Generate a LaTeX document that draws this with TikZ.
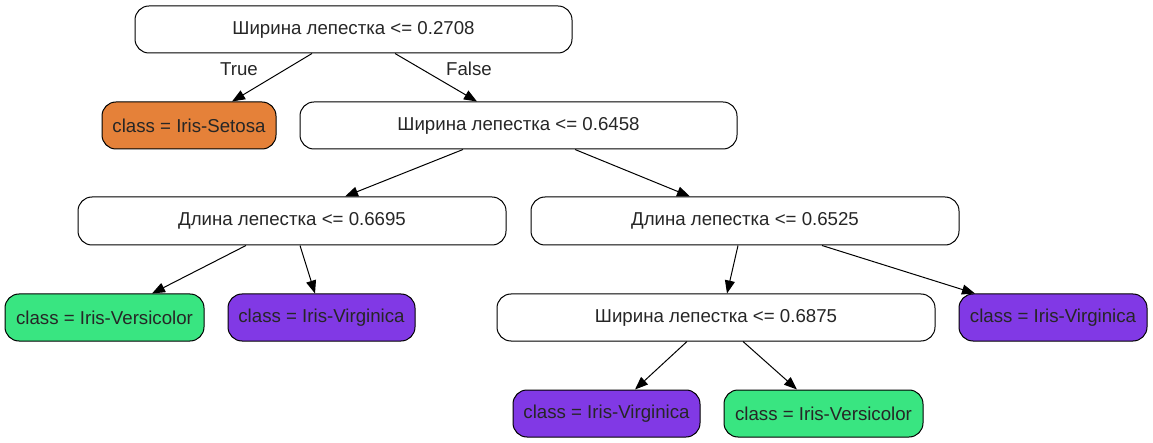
\documentclass[tikz,border=0pt]{standalone}
\usepackage{fontspec}
\setmainfont{Liberation Sans}
\usetikzlibrary{arrows.meta}
\definecolor{setosa}{HTML}{E58139}
\definecolor{versi}{HTML}{39E581}
\definecolor{virg}{HTML}{8139E5}
\tikzset{
  box/.style={draw=black, line width=1pt, rounded corners=14pt, inner sep=0pt, anchor=center,
    font=\fontsize{18.67}{22}\selectfont, text=black!85, minimum height=47pt},
  split/.style={box, fill=white},
  leafO/.style={box, fill=setosa},
  leafG/.style={box, fill=versi},
  leafP/.style={box, fill=virg},
  edge/.style={draw=black, line width=1pt, -{Triangle[length=13pt,width=10pt]}},
  elabel/.style={font=\fontsize{18.67}{22}\selectfont, text=black!85, inner sep=0pt}
}
\begin{document}
\begin{tikzpicture}[x=1pt,y=-1pt]
\useasboundingbox (0,0) rectangle (1153,443);
\node[split, minimum width=437pt] (root) at (353.5,29.5) {Ширина лепестка <= 0.2708};
\node[leafO, minimum width=174pt] (setosa) at (189,125.5) {class = Iris-Setosa};
\node[split, minimum width=437pt] (n2) at (518.5,125.5) {Ширина лепестка <= 0.6458};
\node[split, minimum width=428pt, minimum height=48pt] (n3) at (292,221) {Длина лепестка <= 0.6695};
\node[split, minimum width=428pt, minimum height=48pt] (n4) at (745,221) {Длина лепестка <= 0.6525};
\node[leafG, minimum width=199pt] (vers1) at (104.5,317.5) {class = Iris-Versicolor};
\node[leafP, minimum width=187pt] (virg1) at (321.5,317.5) {class = Iris-Virginica};
\node[split, minimum width=438pt] (n5) at (716,317.5) {Ширина лепестка <= 0.6875};
\node[leafP, minimum width=188pt] (virg2) at (1053,317.5) {class = Iris-Virginica};
\node[leafP, minimum width=187pt] (virg3) at (606.5,413.5) {class = Iris-Virginica};
\node[leafG, minimum width=199pt] (vers2) at (823.5,413.5) {class = Iris-Versicolor};

\draw[edge] ([xshift=-41.5pt]root.south) -- ([xshift=43pt]setosa.north);
\draw[edge] ([xshift=41.5pt]root.south) -- ([xshift=-41.5pt]n2.north);
\draw[edge] ([xshift=-55.5pt]n2.south) -- ([xshift=53pt]n3.north);
\draw[edge] ([xshift=56.5pt]n2.south) -- ([xshift=-55pt]n4.north);
\draw[edge] ([xshift=-46pt]n3.south) -- ([xshift=47.5pt]vers1.north);
\draw[edge] ([xshift=8pt]n3.south) -- ([xshift=-6.5pt]virg1.north);
\draw[edge] ([xshift=-7pt]n4.south) -- ([xshift=11pt]n5.north);
\draw[edge] ([xshift=77pt]n4.south) -- ([xshift=-78pt]virg2.north);
\draw[edge] ([xshift=-29pt]n5.south) -- ([xshift=28.5pt]virg3.north);
\draw[edge] ([xshift=27pt]n5.south) -- ([xshift=-26.5pt]vers2.north);

\node[elabel] (ltrue) at (239,69) {True};
\node[elabel] (lfalse) at (469,69) {False};
\end{tikzpicture}
\end{document}
